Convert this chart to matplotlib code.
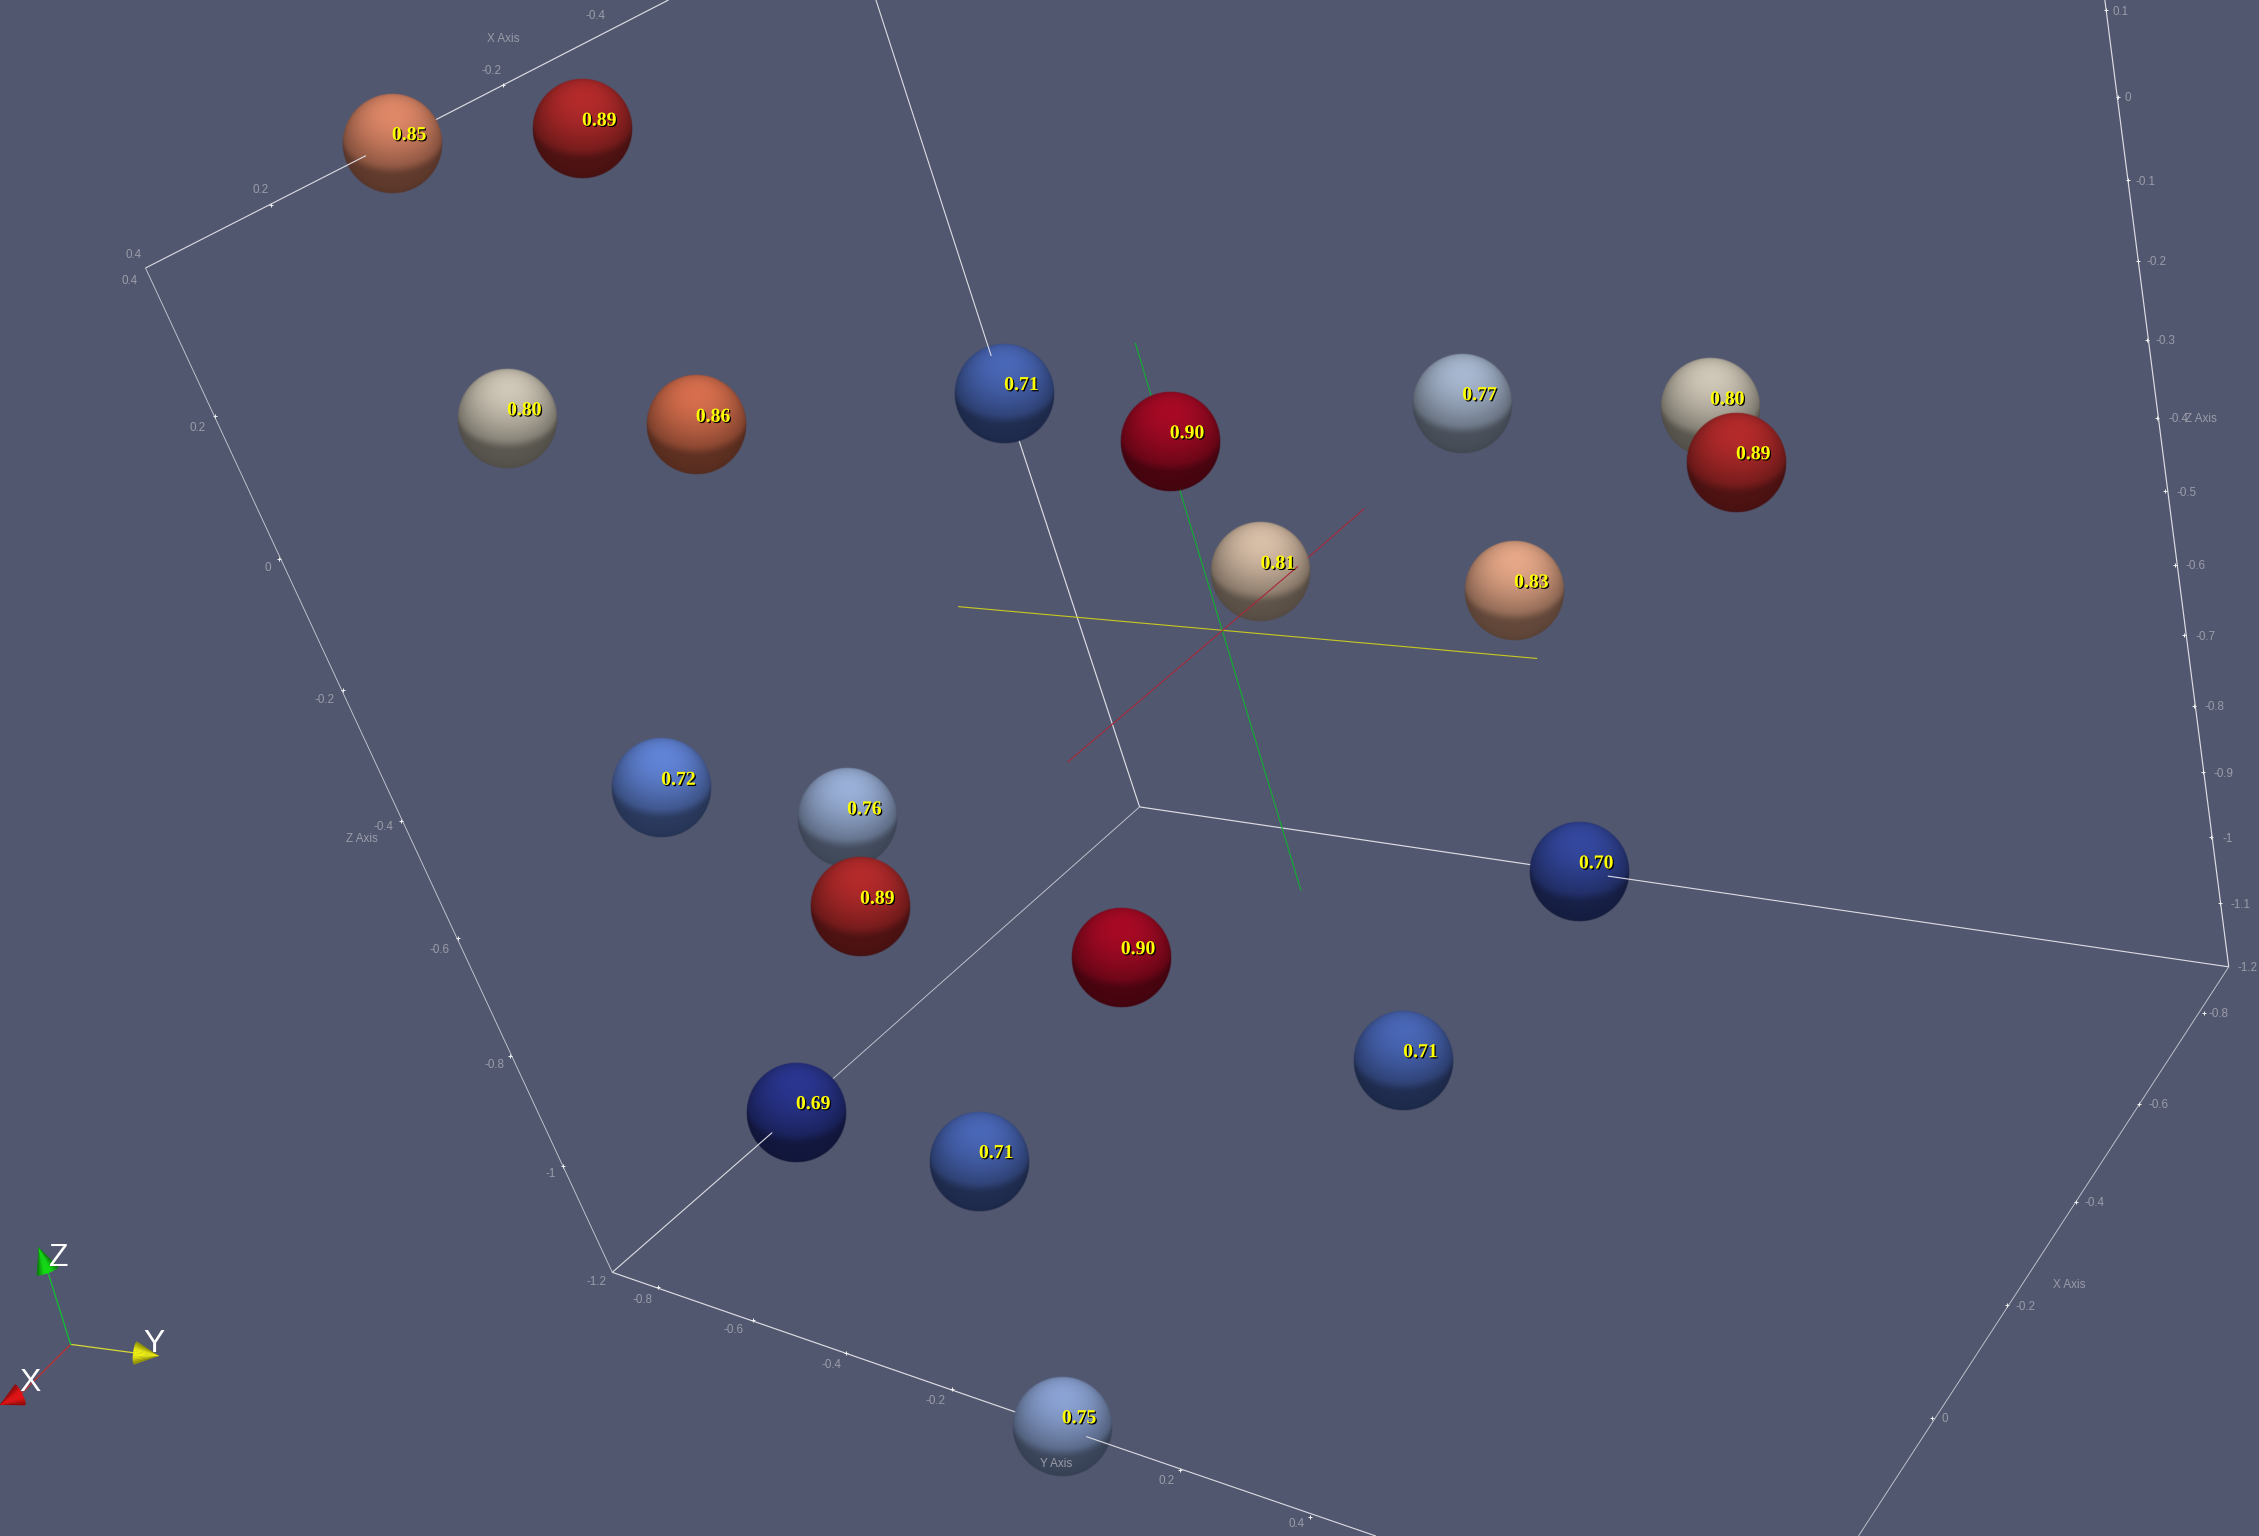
import numpy as np
import matplotlib
matplotlib.use("Agg")
import matplotlib.pyplot as plt
import matplotlib.patheffects as pe
from matplotlib.colors import LinearSegmentedColormap, Normalize

# ---- data (screen coordinates of the 3D view) ----
sphere_values = [0.85, 0.89, 0.80, 0.86, 0.71, 0.90, 0.77, 0.80, 0.89, 0.81,
                 0.83, 0.72, 0.76, 0.89, 0.90, 0.70, 0.71, 0.69, 0.71, 0.75]
sphere_labels = ["0.85", "0.89", "0.80", "0.86", "0.71", "0.90", "0.77", "0.80", "0.89", "0.81",
                 "0.83", "0.72", "0.76", "0.89", "0.90", "0.70", "0.71", "0.69", "0.71", "0.75"]
sphere_x = [272, 404, 352, 483, 697, 812, 1015, 1187, 1205, 875,
            1051, 459, 588, 597, 778, 1096, 974, 552.5, 679.5, 737]
sphere_y = [99.5, 89.5, 290.5, 295, 273, 306.5, 280, 283, 321, 397,
            410, 547, 567.5, 629.5, 664.5, 605, 736, 772, 806, 990]

lines_bright = [
    [(254, 108), (464, 0)],
    [(425, 883), (754, 997)],
    [(688, 247), (791, 560)],
    [(791, 560), (1116, 608)],
    [(1547, 671), (1461, 0)],
]
lines_faint = [
    [(101, 186), (425, 883)],
    [(536, 786), (791, 560)],
    [(1547, 671), (1290, 1066)],
]
lines_front = [
    [(101, 186), (254, 108)],
    [(754, 997), (955, 1066)],
    [(425, 883), (536, 786)],
    [(608, 0), (688, 247)],
    [(1116, 608), (1547, 671)],
]
centre_behind = [
    ("#c8c820", [(665, 421), (1067, 457)]),
    ("#10b030", [(788, 238), (903, 618)]),
    ("#a82838", [(901, 393), (947, 353)]),
]
centre_front = [("#a82838", [(741, 529), (901, 393)])]

tick_text = [
    ("-0.4", 413, 11), ("-0.2", 341, 49), ("0.2", 181, 132), ("0.4", 93, 177), ("X Axis", 349, 27),
    ("0.4", 90, 195), ("0.2", 137, 297), ("0", 186, 394), ("-0.2", 225, 486), ("-0.4", 266, 574),
    ("-0.6", 305, 659), ("-0.8", 343, 739), ("-1", 382, 815), ("-1.2", 414, 890), ("Z Axis", 251, 582),
    ("-0.8", 446, 902), ("-0.6", 509, 923), ("-0.4", 577, 947), ("-0.2", 649, 972),
    ("0.2", 810, 1028), ("0.4", 900, 1058), ("Y Axis", 733, 1016),
    ("0.1", 1472, 8), ("0", 1477, 68), ("-0.1", 1489, 126), ("-0.2", 1497, 182), ("-0.3", 1503, 237),
    ("-0.4", 1512, 291), ("Z Axis", 1528, 291), ("-0.5", 1518, 342), ("-0.6", 1524, 393),
    ("-0.7", 1531, 442), ("-0.8", 1537, 491), ("-0.9", 1543, 537), ("-1", 1546, 582),
    ("-1.1", 1555, 628), ("-1.2", 1560, 672),
    ("-0.8", 1540, 704), ("-0.6", 1498, 767), ("-0.4", 1454, 835), ("-0.2", 1406, 907),
    ("0", 1350, 985), ("X Axis", 1436, 892),
]
tick_x = [349, 188, 149, 194, 238, 278, 318, 354, 391, 457, 523, 587, 661, 819, 909,
          1462, 1470, 1477, 1484, 1490, 1497, 1503, 1510, 1516, 1523, 1529, 1535, 1541,
          1530, 1485, 1441, 1393, 1341]
tick_y = [59, 142, 289, 388, 479, 570, 651, 733, 809, 893, 916, 939, 964, 1020, 1053,
          7, 67, 125, 181, 236, 290, 341, 392, 441, 490, 536, 581, 627,
          703, 766, 834, 906, 984]

triad_origin = (49, 933)
triad_axes = [
    ("X", "#c03030", (14, 968), (0, 975), (21, 960), "#e81010", "#8c0808"),
    ("Y", "#d8d830", (94, 939), (110, 941), (107, 933), "#f0f010", "#8c8c00"),
    ("Z", "#10c030", (33, 882), (27, 866), (41, 873), "#10e010", "#087808"),
]

color_values = [0.69, 0.70, 0.71, 0.72, 0.75, 0.76, 0.77, 0.80, 0.81, 0.83, 0.85, 0.86, 0.89, 0.90]
color_stops = ["#2a3690", "#34489f", "#4a68b8", "#6285d8", "#8ba3d4", "#9ab0d8", "#a8b8d0",
               "#cfc8b8", "#d8bfa8", "#e6a888", "#e08a6a", "#d8704e", "#b52b2b", "#a80a25"]

# ---- drawing ----
BG = "#525770"
plt.rcParams["font.family"] = ["Liberation Sans", "DejaVu Sans"]
fig = plt.figure(figsize=(22.59, 15.36), dpi=100, facecolor=BG)
ax = fig.add_axes([0, 0, 1, 1], facecolor=BG)
ax.set_axis_off()

norm = Normalize(min(color_values), max(color_values))
cmap = LinearSegmentedColormap.from_list(
    "spheres", [(norm(v), c) for v, c in zip(color_values, color_stops)])

def polyline(pts, color, lw, z, alpha=1.0):
    xs, ys = zip(*pts)
    ax.plot(xs, ys, color=color, lw=lw, zorder=z, alpha=alpha, solid_capstyle="butt")

for seg in lines_bright:
    polyline(seg, "#dcdce2", 0.85, 1)
for seg in lines_faint:
    polyline(seg, "#c4c6d0", 0.65, 1)
for c, seg in centre_behind:
    polyline(seg, c, 0.8, 1)

# shaded sphere images
R = 34.5
n = 181
u = np.linspace(-1.03, 1.03, n)
gx, gy = np.meshgrid(u, u)           # gy positive downwards
rr = np.sqrt(gx**2 + gy**2)
nz = np.sqrt(np.clip(1 - rr**2, 0, 1))
highlight = np.clip(0.02 * gx - 0.60 * gy + 0.80 * nz, 0, 1)
term = -0.80 * gy + 0.60 * nz
step = np.clip((term + 0.08) / 0.30, 0, 1)
step = step * step * (3 - 2 * step)
lit_part = 0.52 + 0.48 * highlight**1.5
band_part = 0.38 + 0.08 * nz
shade = band_part + (lit_part - band_part) * step
alpha = np.clip((1 - rr) * n / 2.06 / 1.5 + 0.5, 0, 1)

for i, (v, x, y) in enumerate(zip(sphere_values, sphere_x, sphere_y)):
    base = np.array(cmap(norm(v))[:3])
    rgba = np.dstack([np.clip(shade * base[k], 0, 1) for k in range(3)] + [alpha])
    ax.imshow(rgba, extent=(x - 1.03 * R, x + 1.03 * R, y + 1.03 * R, y - 1.03 * R),
              origin="upper", interpolation="bilinear", aspect="auto", zorder=2 + i * 0.01)

for seg in lines_front:
    polyline(seg, "#dcdce2", 0.8, 3)
for c, seg in centre_front:
    polyline(seg, c, 0.8, 3)

ax.scatter(tick_x, tick_y, marker="+", s=8, color="#f0f0f0", linewidths=0.7, zorder=1.5)

for s, x, y in tick_text:
    ax.text(x, y, s, color="#9a9ca8", fontsize=8.4, ha="center", va="center", zorder=3.5)

for s, x, y in zip(sphere_labels, sphere_x, sphere_y):
    ax.text(x + 12, y - 5.8, s, color="#ffff00", fontsize=14.2, fontweight="bold",
            family=["Liberation Serif", "DejaVu Serif"], ha="center", va="center", zorder=5,
            path_effects=[pe.withSimplePatchShadow(offset=(0.9, -0.9), shadow_rgbFace="black", alpha=1.0)])

# orientation triad
ox, oy = triad_origin
for name, lc, base, tip, lab, c1, c2 in triad_axes:
    ax.plot([ox, base[0]], [oy, base[1]], color=lc, lw=0.9, zorder=6)
    d = np.array([tip[0] - base[0], tip[1] - base[1]], float)
    p = np.array([-d[1], d[0]]) / np.hypot(*d)
    cols = LinearSegmentedColormap.from_list("c", [c2, c1, c1, c2])
    edges = np.linspace(-1, 1, 13)
    for a, b in zip(edges[:-1], edges[1:]):
        m = (a + b) / 2
        bulge_a = np.sqrt(max(1 - a**2, 0)) * 1.5
        bulge_b = np.sqrt(max(1 - b**2, 0)) * 1.5
        dn = d / np.hypot(*d)
        pa = np.array(base) + p * a * 8 - dn * bulge_a
        pb = np.array(base) + p * b * 8 - dn * bulge_b
        ax.fill([pa[0], pb[0], tip[0]], [pa[1], pb[1], tip[1]],
                color=cols((m + 1) / 2), lw=0.2, zorder=6.5)
for name, lc, base, tip, lab, c1, c2 in triad_axes:
    ax.text(lab[0], lab[1], name, color="white", fontsize=23, ha="center", va="center", zorder=7)

ax.set_xlim(0, 1568)
ax.set_ylim(1066, 0)
fig.savefig("out.png", dpi=100, facecolor=BG)
